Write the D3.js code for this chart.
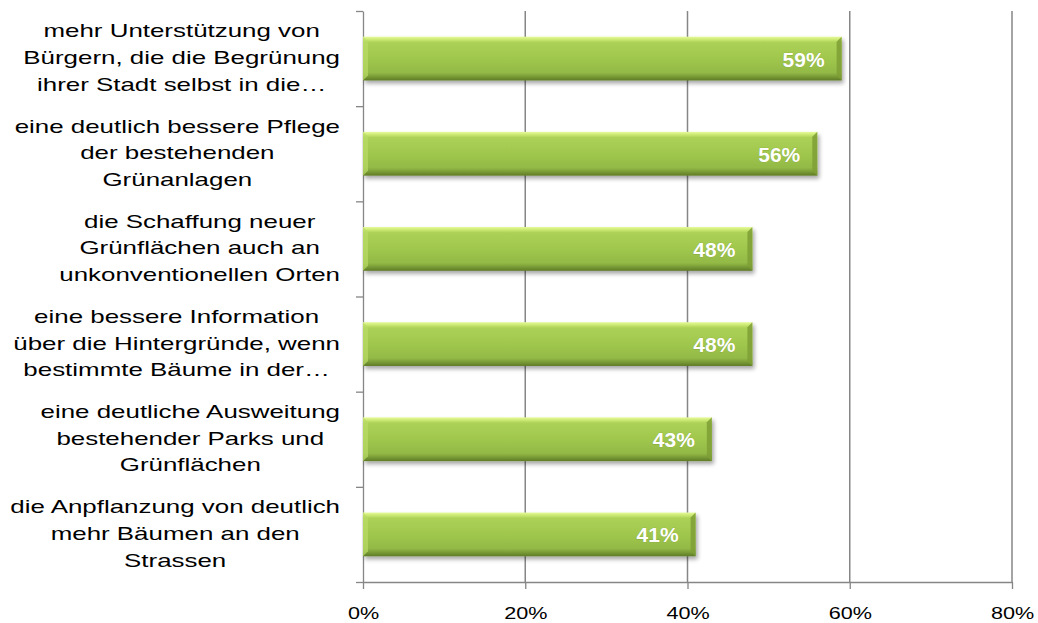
<!DOCTYPE html>
<html>
<head>
<meta charset="utf-8">
<script src="https://cdn.jsdelivr.net/npm/d3@7"></script>
<style>
  html, body { margin: 0; padding: 0; background: #fff; }
  svg { display: block; font-family: "Liberation Sans", Arial, sans-serif; }
  .axis path, .axis line { stroke: #868686; stroke-width: 1.3; }
  .axis text { fill: #000; font-size: 17px; }
</style>
</head>
<body>
<div id="chart"></div>
<script>
// Survey answers (wrapped as in the original chart) and shares in percent
const categories = [
  ["mehr Unterstützung von", "Bürgern, die die Begrünung", "ihrer Stadt selbst in die…"],
  ["eine deutlich bessere Pflege", "der bestehenden", "Grünanlagen"],
  ["die Schaffung neuer", "Grünflächen auch an", "unkonventionellen Orten"],
  ["eine bessere Information", "über die Hintergründe, wenn", "bestimmte Bäume in der…"],
  ["eine deutliche Ausweitung", "bestehender Parks und", "Grünflächen"],
  ["die Anpflanzung von deutlich", "mehr Bäumen an den", "Strassen"]
];
const values = [59, 56, 48, 48, 43, 41];
const xTicks = [0, 20, 40, 60, 80];

const width = 1038, height = 623;
const plot = { left: 363, right: 1012, top: 11, bottom: 582 };
// the original's text is rendered noticeably wide
const stretch = 1.4, tickStretch = 1.27;

const svg = d3.select("#chart").append("svg")
  .attr("width", width).attr("height", height);

const defs = svg.append("defs");

// Soft bevel look of the bars
const grad = defs.append("linearGradient").attr("id", "barFill")
  .attr("x1", 0).attr("y1", 0).attr("x2", 0).attr("y2", 1);
[[0, "#e6fb9c"], [0.06, "#cdea74"], [0.13, "#acd157"], [0.5, "#a0c74d"],
 [0.82, "#93b946"], [0.88, "#83a63c"], [1, "#5e7b26"]]
  .forEach(([o, c]) => grad.append("stop").attr("offset", o).attr("stop-color", c));

const shadow = defs.append("filter").attr("id", "shadow")
  .attr("x", "-5%").attr("y", "-20%").attr("width", "110%").attr("height", "160%");
shadow.append("feGaussianBlur").attr("in", "SourceAlpha").attr("stdDeviation", 2.2);
shadow.append("feOffset").attr("dx", 2).attr("dy", 3).attr("result", "blur");
shadow.append("feComponentTransfer").append("feFuncA").attr("type", "linear").attr("slope", 0.35);
const merge = shadow.append("feMerge");
merge.append("feMergeNode");
merge.append("feMergeNode").attr("in", "SourceGraphic");

const x = d3.scaleLinear().domain([0, 80]).range([plot.left, plot.right]);
const y = d3.scaleBand().domain(d3.range(categories.length))
  .range([plot.top, plot.bottom]).paddingInner(0.54).paddingOuter(0.27);
const yEdges = d3.scaleLinear().domain([0, categories.length]).range([plot.top, plot.bottom]);

// Vertical gridlines
svg.append("g").selectAll("line").data(xTicks.slice(1)).join("line")
  .attr("x1", d => x(d)).attr("x2", d => x(d))
  .attr("y1", plot.top).attr("y2", plot.bottom)
  .attr("stroke", "#868686").attr("stroke-width", 1.5);

// Axes
const xAxisG = svg.append("g").attr("class", "axis")
  .attr("transform", `translate(0,${plot.bottom})`)
  .call(d3.axisBottom(x).tickValues(xTicks).tickFormat(d => d + "%").tickSizeInner(7).tickSizeOuter(0).tickPadding(18));
xAxisG.selectAll("text").attr("transform", `scale(${tickStretch},1)`);

svg.append("g").attr("class", "axis")
  .attr("transform", `translate(${plot.left},0)`)
  .call(d3.axisLeft(yEdges).tickValues(d3.range(categories.length + 1)).tickFormat("").tickSizeInner(7).tickSizeOuter(0));

// Bars
const bars = svg.append("g").selectAll("g").data(values).join("g")
  .attr("transform", (d, i) => `translate(${x(0)},${y(i)})`);

const bh = y.bandwidth();
bars.append("rect")
  .attr("width", d => x(d) - x(0)).attr("height", bh)
  .attr("fill", "url(#barFill)").attr("filter", "url(#shadow)");

// bevel edges on the left and right
bars.append("path")
  .attr("d", d => {
    const w = x(d) - x(0);
    return `M${w},0 L${w},${bh} L${w - 5},${bh - 5} L${w - 5},5 Z`;
  })
  .attr("fill", "#7e9f35").attr("opacity", 0.85);
bars.append("path")
  .attr("d", `M0,0 L5,5 L5,${bh - 5} L0,${bh} Z`)
  .attr("fill", "#b9dc66").attr("opacity", 0.7);

// Value labels
bars.append("text")
  .attr("x", d => x(d) - x(0) - 17).attr("y", bh / 2 + 8)
  .attr("text-anchor", "end")
  .attr("fill", "#fff").attr("font-weight", "bold").attr("font-size", "21px")
  .attr("stroke", "#6d8d2e").attr("stroke-width", 0.6).attr("stroke-opacity", 0.5)
  .attr("paint-order", "stroke")
  .text(d => d + "%");

// Category labels: lines centred inside a block that is right-aligned to the axis
const labelRight = 340, lineH = 26.7;
const labels = svg.append("g").selectAll("g").data(categories).join("g")
  .attr("transform", (d, i) => `translate(${labelRight},${y(i) + bh / 2 + 5.5}) scale(${stretch},1)`);

labels.each(function (lines) {
  const t = d3.select(this).append("text")
    .attr("font-size", "18.5px").attr("fill", "#000").attr("text-anchor", "middle");
  lines.forEach((ln, k) => {
    t.append("tspan").text(ln).attr("y", (k - (lines.length - 1) / 2) * lineH);
  });
  const maxW = d3.max(t.selectAll("tspan").nodes(), n => n.getComputedTextLength());
  t.selectAll("tspan").attr("x", -maxW / 2);
});
</script>
</body>
</html>
